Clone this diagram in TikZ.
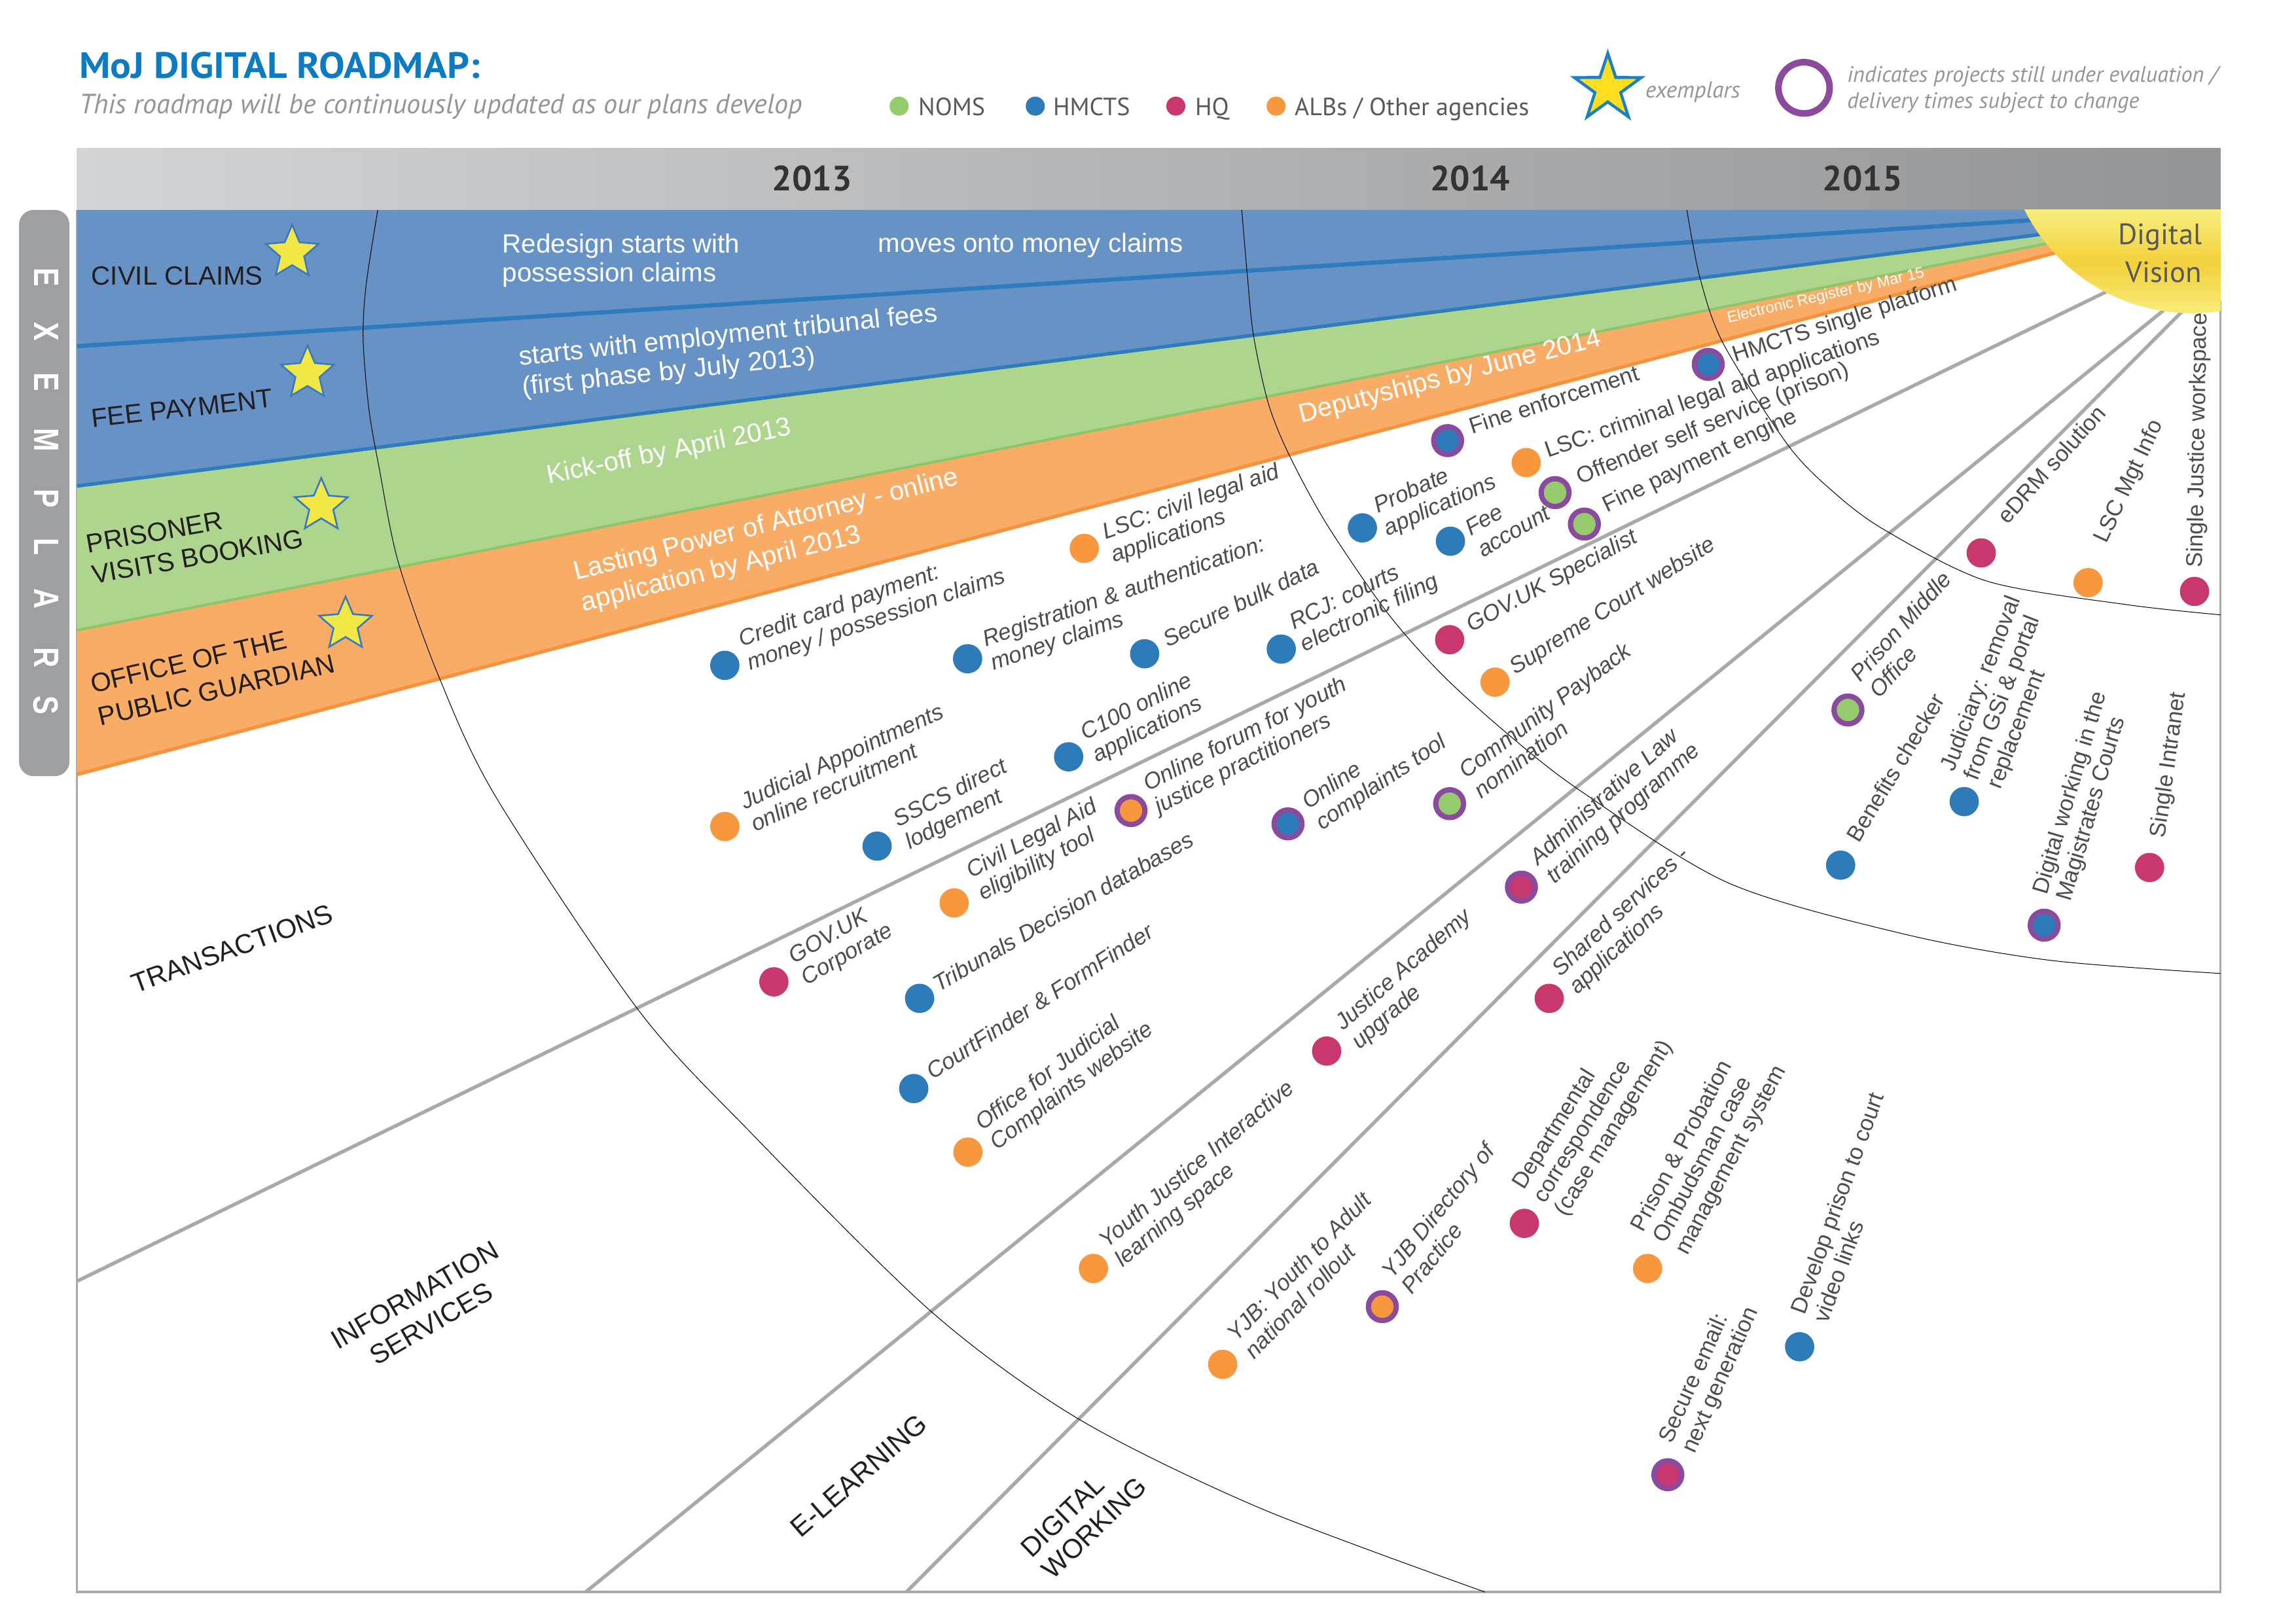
\documentclass[tikz,border=0pt]{standalone}
\usepackage{fontspec}
\usepackage{graphicx}
\setmainfont{Liberation Sans}
\newfontfamily\ptsans{PT Sans}
\usetikzlibrary{shapes.geometric}
\definecolor{bandblue}{HTML}{6792C6}
\definecolor{lineblue}{HTML}{2E7BBD}
\definecolor{bandgreen}{HTML}{ADD58E}
\definecolor{linegreen}{HTML}{8DC56B}
\definecolor{bandorange}{HTML}{F8AC66}
\definecolor{lineorange}{HTML}{F6923C}
\definecolor{cB}{HTML}{2E7BB9}
\definecolor{cO}{HTML}{F7983E}
\definecolor{cM}{HTML}{C8386F}
\definecolor{cG}{HTML}{95CB6D}
\definecolor{cP}{HTML}{8A4B9E}
\definecolor{framegrey}{HTML}{A7A9AC}
\definecolor{txt}{HTML}{4D4D4F}
\definecolor{titleblue}{HTML}{0C7BC1}
\definecolor{subgrey}{HTML}{939598}
\definecolor{leggrey}{HTML}{58595B}
\definecolor{exbar}{HTML}{9D9FA2}
\definecolor{staryellow}{HTML}{F1E845}
\definecolor{starblue}{HTML}{3A7BBF}
\definecolor{legyellow}{HTML}{FDDF1F}
\definecolor{legblue}{HTML}{1B80C4}
\definecolor{yearcol}{HTML}{333333}
\definecolor{dlabel}{HTML}{231F20}
\definecolor{hdrL}{HTML}{D3D4D6}
\definecolor{hdrR}{HTML}{939496}
\definecolor{yelA}{HTML}{F7EE7C}
\definecolor{yelB}{HTML}{F4D03C}
\newcommand\ml[1]{\vbox{\halign{##\hfil\cr#1\crcr}}}
\newcommand\mlc[1]{\vbox{\halign{\hfil##\hfil\cr#1\crcr}}}
\newcommand\proj[7]{%
  \begin{scope}[shift={#3}, rotate=#4, transform shape]
    \node[#2] (#1) at (0,0) {};
    \node[#6] (#1-t) at #5 {\ml{#7}};
  \end{scope}}
\begin{document}
\begin{tikzpicture}[x=1pt,y=-1pt,
  pdot/.style={circle, inner sep=0pt, minimum size=20pt},
  dB/.style={pdot, fill=cB}, dO/.style={pdot, fill=cO}, dM/.style={pdot, fill=cM}, dG/.style={pdot, fill=cG},
  pring/.style={circle, inner sep=0pt, minimum size=19pt, draw=cP, line width=3.6pt},
  rB/.style={pring, fill=cB}, rO/.style={pring, fill=cO}, rM/.style={pring, fill=cM}, rG/.style={pring, fill=cG},
  itx/.style={font=\fontsize{15.5}{17}\selectfont\itshape, text=txt, inner sep=0pt, anchor=base west},
  utx/.style={font=\fontsize{15.5}{17}\selectfont, text=txt, inner sep=0pt, anchor=base west},
  wtxt/.style={font=\fontsize{18}{20.5}\selectfont, text=white, inner sep=0pt, anchor=base west},
  blab/.style={font=\fontsize{18}{22}\selectfont, text=dlabel, inner sep=0pt, anchor=base west},
  slab/.style={font=\fontsize{18.5}{22.5}\selectfont, text=dlabel, inner sep=0pt},
  exl/.style={font=\bfseries\fontsize{24}{24}\selectfont, text=white, rotate=-90, inner sep=0pt},
  ystar/.style={star, star points=5, star point ratio=2.2, minimum size=38pt, fill=staryellow, draw=starblue, line width=1.2pt, inner sep=0pt},
  divider/.style={draw=framegrey, line width=2.4pt},
  arcline/.style={draw=black, line width=0.45pt},
  legtxt/.style={font=\ptsans\fontsize{17}{17}\selectfont, text=leggrey, inner sep=0pt, anchor=base west},
  legdot/.style={circle, inner sep=0pt, minimum size=13pt},
  yr/.style={font=\ptsans\bfseries\fontsize{24}{24}\selectfont, text=yearcol, inner sep=0pt, anchor=base},
]
\useasboundingbox (0,0) rectangle (1568,1109);
\fill[white] (0,0) rectangle (1568,1109);

% header
\node[anchor=base west, inner sep=0pt, font=\ptsans\bfseries\fontsize{25}{25}\selectfont, text=titleblue] (title) at (53.9,53.3) {\scalebox{1.06}[1]{MoJ DIGITAL ROADMAP:}};
\node[anchor=base west, inner sep=0pt, font=\ptsans\itshape\fontsize{18.9}{19}\selectfont, text=subgrey] (subtitle) at (53.9,77.5) {This roadmap will be continuously updated as our plans develop};
\node[legdot, fill=cG] (lgN) at (614,72.5) {};
\node[legtxt] (lgNt) at (627,78.7) {NOMS};
\node[legdot, fill=cB] (lgH) at (707,72.5) {};
\node[legtxt] (lgHt) at (719,78.7) {HMCTS};
\node[legdot, fill=cM] (lgQ) at (803,72.5) {};
\node[legtxt] (lgQt) at (816,78.7) {HQ};
\node[legdot, fill=cO] (lgA) at (871.5,72.5) {};
\node[legtxt] (lgAt) at (884,78.7) {ALBs / Other agencies};
\node[star, star points=5, star point ratio=2.6, minimum size=48pt, fill=legyellow, draw=legblue, line width=2pt, inner sep=0pt] (lgstar) at (1098,60.4) {};
\node[anchor=base west, inner sep=0pt, font=\ptsans\itshape\fontsize{15.7}{16}\selectfont, text=subgrey] (lgstart) at (1123.5,67) {exemplars};
\node[circle, draw=cP, line width=4.5pt, minimum size=35pt, inner sep=0pt] (lgring) at (1232,60) {};
\node[anchor=base west, inner sep=0pt, font=\ptsans\itshape\fontsize{15.3}{16}\selectfont, text=subgrey] (lgringt1) at (1261.3,55.9) {indicates projects still under evaluation /};
\node[anchor=base west, inner sep=0pt, font=\ptsans\itshape\fontsize{15.3}{16}\selectfont, text=subgrey] (lgringt2) at (1261.3,73.8) {delivery times subject to change};

% header bar
\shade[left color=hdrL, right color=hdrR] (52.6,101.2) rectangle (1516.4,143.4);
\node[yr] (y13) at (554.5,130.3) {2013};
\node[yr] (y14) at (1004,130.3) {2014};
\node[yr] (y15) at (1272,130.3) {2015};

% frame
\draw[framegrey, line width=1.6pt] (52.6,143.4) -- (52.6,1087.5) -- (1516.4,1087.5) -- (1516.4,205);

% bands
\fill[bandblue] (52.6,143.4) -- (1410,143.4) -- (1410,158) -- (52.6,332) -- cycle;
\fill[bandgreen] (52.6,332) -- (1410,158) -- (1410,164) -- (52.6,430.5) -- cycle;
\fill[bandorange] (52.6,430.5) -- (1410,164) -- (1410,171) -- (52.6,529) -- cycle;
\draw[lineblue, line width=2.9pt] (52.6,236.5) -- (1410,149);
\draw[lineblue, line width=2.4pt] (52.6,332) -- (1410,158);
\draw[linegreen, line width=1.8pt] (52.6,430.5) -- (1410,164);
\draw[lineorange, line width=2.4pt] (52.6,529) -- (1410,171);

% dividers
\draw[divider] (53,875) -- (1439,199);
\draw[divider] (400,1087.5) -- (1480,210);
\draw[divider] (619,1087.5) -- (1491,212);

% year arcs
\draw[arcline] plot[smooth] coordinates {(258,143.4) (250,195) (248,232) (252,280) (259,320) (272,384) (300,463) (339,545) (436,690) (513,774) (636,896) (736,969) (860,1030) (1014,1087.5)};
\draw[arcline] plot[smooth] coordinates {(848,143.4) (852,190) (856,229) (866,275) (880,310) (906,358) (947,418) (984,460) (1028,500) (1079,540) (1180,603) (1300,638) (1400,656) (1516.4,665)};
\draw[arcline] plot[smooth] coordinates {(1152,143.4) (1161,190) (1177,235) (1221,304) (1252,336) (1287,362) (1357,397) (1452,413) (1516.4,420)};

% digital vision
\begin{scope}
  \clip (1497,86) circle[radius=128];
  \shade[top color=yelA, bottom color=yelA, middle color=yelB] (1340,143.4) rectangle (1516.4,216);
\end{scope}
\node[anchor=base east, inner sep=0pt, font=\ptsans\fontsize{20}{20}\selectfont, text=leggrey] (dv1) at (1504,166.8) {Digital};
\node[anchor=base east, inner sep=0pt, font=\ptsans\fontsize{20}{20}\selectfont, text=leggrey] (dv2) at (1504,193) {Vision};

% exemplars bar
\node[fill=exbar, rounded corners=10pt, minimum width=34.4pt, minimum height=386.8pt, inner sep=0pt] (exbar) at (30.2,336.8) {};
\foreach \l/\yy [count=\i] in {E/189.5,X/226.6,E/260.8,M/300.7,P/340.6,L/373.4,A/409,R/449,S/481.7}
  \node[exl] (ex\i) at (31.5,\yy) {\scalebox{0.8}[1]{\l}};

% band labels and stars
\node[blab] (civil) at (62.3,194.7) {CIVIL CLAIMS};
\node[blab, rotate=6.5] (feepay) at (63,292.2) {FEE PAYMENT};
\node[blab, rotate=10, font=\fontsize{18}{21.4}\selectfont] (prisoner) at (63.8,399) {\ml{PRISONER\cr VISITS BOOKING}};
\node[blab, rotate=13, font=\fontsize{18}{23}\selectfont] (opg) at (68.6,496) {\ml{OFFICE OF THE\cr PUBLIC GUARDIAN}};
\node[ystar] (star1) at (199.5,172.5) {};
\node[ystar] (star2) at (210,255) {};
\node[ystar] (star3) at (219.4,345.5) {};
\node[ystar] (star4) at (236,426.5) {};

% band texts
\node[wtxt, font=\fontsize{18}{19.5}\selectfont] (b1) at (343,192.4) {\ml{Redesign starts with\cr possession claims}};
\node[wtxt] (b2) at (599.5,172.5) {moves onto money claims};
\node[wtxt, rotate=6] (b3) at (357,270) {\ml{starts with employment tribunal fees\cr (first phase by July 2013)}};
\node[wtxt, rotate=11.5] (b4) at (374.4,330.7) {Kick-off by April 2013};
\node[wtxt, rotate=14, font=\fontsize{18}{22}\selectfont] (b5) at (398.5,417.7) {\ml{Lasting Power of Attorney - online\cr application by April 2013}};
\node[wtxt, rotate=14.4] (b6) at (888.5,288.8) {Deputyships by June 2014};
\node[wtxt, rotate=13, font=\fontsize{10.5}{12}\selectfont] (b7) at (1180.2,220.4) {Electronic Register by Mar 15};

% section labels
\node[slab, anchor=base west, rotate=20] (sTrans) at (92.4,678.8) {TRANSACTIONS};
\node[slab, anchor=base, rotate=30] (sInfo) at (297.7,909.7) {\mlc{INFORMATION\cr SERVICES}};
\node[slab, anchor=base west, rotate=41, font=\fontsize{19}{21}\selectfont] (sElearn) at (546.6,1051) {E-LEARNING};
\node[slab, anchor=base west, rotate=44, font=\fontsize{18.5}{21}\selectfont] (sDigital) at (719,1080) {\ml{DIGITAL\cr WORKING}};

% projects
\proj{credit}{dB}{(495,454.5)}{19}{(15,8.8)}{itx}{Credit card payment:\cr money / possession claims}
\proj{lscciv}{dO}{(740.5,374.6)}{19.5}{(15.7,16)}{itx}{LSC: civil legal aid\cr applications}
\proj{regauth}{dB}{(660.8,450)}{19}{(14.2,13.4)}{itx}{Registration \& authentication:\cr money claims}
\proj{bulk}{dB}{(781.7,446.6)}{26}{(16,3)}{itx}{Secure bulk data}
\proj{rcj}{dB}{(875,443.4)}{26}{(13.5,8.8)}{itx}{RCJ: courts\cr electronic filing}
\proj{probate}{dB}{(930.4,360.6)}{24}{(13.6,12.3)}{itx}{Probate\cr applications}
\proj{fee}{dB}{(990.5,369.7)}{30}{(13.6,20.9)}{itx}{Fee\cr account}
\proj{fineenf}{rB}{(988.6,301)}{18}{(17.3,1.2)}{utx}{Fine enforcement}
\proj{lsccrim}{dO}{(1042.3,316)}{19}{(15.1,1.9)}{utx}{LSC: criminal legal aid applications}
\proj{offender}{rG}{(1062,336.5)}{22}{(18,1.2)}{utx}{Offender self service (prison)}
\proj{finepay}{rG}{(1082,358)}{25.5}{(17.3,-0.5)}{utx}{Fine payment engine}
\proj{hmcts}{rB}{(1166.6,248.9)}{18}{(17.8,4.5)}{utx}{HMCTS single platform}
\proj{judapp}{dO}{(495,564.6)}{24.7}{(17.1,12.2)}{itx}{Judicial Appointments\cr online recruitment}
\proj{sscs}{dB}{(599,578)}{27}{(18.7,12.2)}{itx}{SSCS direct\cr lodgement}
\proj{cform}{dB}{(729.8,517)}{27}{(15.3,12.4)}{itx}{C100 online\cr applications}
\proj{forum}{rO}{(772.4,553.7)}{27}{(16.2,10.8)}{itx}{Online forum for youth\cr justice practitioners}
\proj{complaints}{rB}{(879.6,562.8)}{34}{(16.7,16.8)}{itx}{Online\cr complaints tool}
\proj{payback}{rG}{(990,549)}{37}{(19,10.6)}{itx}{Community Payback\cr nomination}
\proj{govspec}{dM}{(990,437)}{28.4}{(15.5,2.6)}{itx}{GOV.UK Specialist}
\proj{supreme}{dO}{(1021,466)}{32.2}{(14.4,3.4)}{itx}{Supreme Court website}
\proj{civlegal}{dO}{(651.6,616.8)}{28}{(18,7.9)}{itx}{Civil Legal Aid\cr eligibility tool}
\proj{govcorp}{dM}{(528.5,670.7)}{30}{(18,13.5)}{itx}{GOV.UK\cr Corporate}
\proj{tribunals}{dB}{(628,682)}{30}{(13.3,3)}{itx}{Tribunals Decision databases}
\proj{courtfinder}{dB}{(624,743.6)}{33}{(14,2.4)}{itx}{CourtFinder \& FormFinder}
\proj{ojc}{dO}{(661,787)}{37}{(16.4,11.5)}{itx}{Office for Judicial\cr Complaints website}
\proj{yji}{dO}{(746.7,866.5)}{40}{(15.5,12.7)}{itx}{Youth Justice Interactive\cr learning space}
\proj{jacad}{dM}{(906,718)}{41}{(17.3,14.1)}{itx}{Justice Academy\cr upgrade}
\proj{adminlaw}{rM}{(1039,606)}{42}{(18,13.9)}{itx}{Administrative Law\cr training programme}
\proj{shared}{dM}{(1058,682)}{43}{(15.5,11.6)}{itx}{Shared services -\cr applications}
\proj{yjbadult}{dO}{(835,932)}{46}{(17.1,13.4)}{itx}{YJB: Youth to Adult\cr national rollout}
\proj{yjbdir}{rO}{(944,892.6)}{51}{(18.8,10.7)}{itx}{YJB Directory of\cr Practice}
\proj{deptcorr}{dM}{(1041,835.7)}{58}{(18.5,21.9)}{utx}{Departmental\cr correspondence\cr (case management)}
\proj{ppo}{dO}{(1125.2,866.5)}{62}{(20,20)}{utx}{Prison \& Probation\cr Ombudsman case\cr management system}
\proj{secmail}{rM}{(1139,1007.4)}{66}{(20,11.1)}{utx}{Secure email:\cr next generation}
\proj{videolinks}{dB}{(1229,920)}{70}{(21,12.8)}{utx}{Develop prison to court\cr video links}
\proj{pmo}{rG}{(1262,485)}{48}{(19.5,11)}{itx}{Prison Middle\cr Office}
\proj{benefits}{dB}{(1257,591)}{59}{(19,3.4)}{utx}{Benefits checker}
\proj{judiciary}{dB}{(1341.4,547.6)}{69}{(16,20.5)}{utx}{Judiciary: removal\cr from GSi \& portal\cr replacement}
\proj{magistrates}{rB}{(1396,632)}{73.5}{(20,12.9)}{utx}{Digital working in the\cr Magistrates Courts}
\proj{intranet}{dM}{(1468,592.6)}{82}{(21,7.6)}{utx}{Single Intranet}
\proj{edrm}{dM}{(1353,377.7)}{48}{(26,0.6)}{utx}{eDRM solution}
\proj{lscmgt}{dO}{(1426,398)}{65}{(29,0.5)}{utx}{LSC Mgt Info}
\proj{sjw}{dM}{(1498.7,404)}{89}{(16,5)}{utx}{Single Justice workspace}
\end{tikzpicture}
\end{document}
